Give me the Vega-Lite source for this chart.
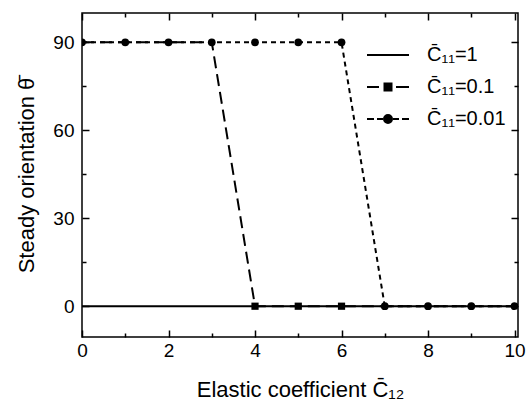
{
  "$schema": "https://vega.github.io/schema/vega-lite/v6.json",
  "width": 436,
  "height": 324,
  "autosize": "none",
  "padding": {"left": 82, "top": 13, "right": 12, "bottom": 68},
  "background": "white",
  "config": {"font": "Liberation Sans", "view": {"stroke": "black", "strokeWidth": 1.5}},
  "data": {"values": [
    {"series": "1", "x": 0, "y": 0}, {"series": "1", "x": 1, "y": 0}, {"series": "1", "x": 2, "y": 0},
    {"series": "1", "x": 3, "y": 0}, {"series": "1", "x": 4, "y": 0}, {"series": "1", "x": 5, "y": 0},
    {"series": "1", "x": 6, "y": 0}, {"series": "1", "x": 7, "y": 0}, {"series": "1", "x": 8, "y": 0},
    {"series": "1", "x": 9, "y": 0}, {"series": "1", "x": 10, "y": 0},
    {"series": "0.1", "x": 0, "y": 90}, {"series": "0.1", "x": 1, "y": 90}, {"series": "0.1", "x": 2, "y": 90},
    {"series": "0.1", "x": 3, "y": 90}, {"series": "0.1", "x": 4, "y": 0}, {"series": "0.1", "x": 5, "y": 0},
    {"series": "0.1", "x": 6, "y": 0}, {"series": "0.1", "x": 7, "y": 0}, {"series": "0.1", "x": 8, "y": 0},
    {"series": "0.1", "x": 9, "y": 0}, {"series": "0.1", "x": 10, "y": 0},
    {"series": "0.01", "x": 0, "y": 90}, {"series": "0.01", "x": 1, "y": 90}, {"series": "0.01", "x": 2, "y": 90},
    {"series": "0.01", "x": 3, "y": 90}, {"series": "0.01", "x": 4, "y": 90}, {"series": "0.01", "x": 5, "y": 90},
    {"series": "0.01", "x": 6, "y": 90}, {"series": "0.01", "x": 7, "y": 0}, {"series": "0.01", "x": 8, "y": 0},
    {"series": "0.01", "x": 9, "y": 0}, {"series": "0.01", "x": 10, "y": 0}
  ]},
  "layer": [
    {
      "mark": {"type": "line", "color": "black", "strokeWidth": 2, "clip": true},
      "encoding": {
        "x": {"field": "x", "type": "quantitative", "scale": {"domain": [0, 10.08], "nice": false, "zero": false},
          "axis": {"orient": "bottom", "values": [0,1,2,3,4,5,6,7,8,9,10],
            "labelExpr": "datum.value % 2 === 0 ? datum.label : ''",
            "tickSize": {"condition": {"test": "datum.value % 2 === 0", "value": -7}, "value": -4},
            "tickColor": "black", "tickWidth": 1.5, "domain": false, "grid": false,
            "labelFontSize": 19, "labelColor": "black", "labelPadding": 11, "labelFlush": false, "labelOverlap": false,
            "title": "Elastic coefficient C̄₁₂", "titleFontSize": 22, "titleFontWeight": "normal", "titleColor": "black", "titlePadding": 16}},
        "y": {"field": "y", "type": "quantitative", "scale": {"domain": [-10.5, 100], "nice": false, "zero": false},
          "axis": {"orient": "left", "values": [0,15,30,45,60,75,90],
            "labelExpr": "datum.value % 30 === 0 ? datum.label : ''",
            "tickSize": {"condition": {"test": "datum.value % 30 === 0", "value": -7}, "value": -4},
            "tickColor": "black", "tickWidth": 1.5, "domain": false, "grid": false,
            "labelFontSize": 19, "labelColor": "black", "labelPadding": 15, "labelFlush": false, "labelOverlap": false,
            "title": "Steady orientation θ̄", "titleFontSize": 22, "titleFontWeight": "normal", "titleColor": "black", "titlePadding": 14}},
        "strokeDash": {"field": "series", "type": "nominal",
          "scale": {"domain": ["0.01", "0.1", "1"], "range": [[5, 4], [12, 6], [1, 0]]}, "legend": null}
      }
    },
    {
      "transform": [{"filter": "datum.series === '0.1' && datum.y === 0 && datum.x < 7"}],
      "mark": {"type": "point", "shape": "square", "filled": true, "color": "black", "size": 52, "opacity": 1, "clip": true},
      "encoding": {
        "x": {"field": "x", "type": "quantitative", "axis": null},
        "y": {"field": "y", "type": "quantitative", "axis": null}
      }
    },
    {
      "transform": [{"filter": "datum.series === '0.01'"}],
      "mark": {"type": "point", "shape": "circle", "filled": true, "color": "black", "size": 60, "opacity": 1, "clip": true},
      "encoding": {
        "x": {"field": "x", "type": "quantitative", "axis": null},
        "y": {"field": "y", "type": "quantitative", "axis": null}
      }
    },
    {
      "transform": [{"filter": "datum.x < 0"}],
      "mark": {"type": "point", "filled": false, "fill": "black", "stroke": "black", "strokeWidth": 2},
      "encoding": {
        "x": {"field": "x", "type": "quantitative",
          "axis": {"orient": "top", "values": [0,1,2,3,4,5,6,7,8,9,10], "labels": false, "title": null,
            "tickSize": {"condition": {"test": "datum.value % 2 === 0", "value": -7}, "value": -4},
            "tickColor": "black", "tickWidth": 1.5, "domain": false, "grid": false}},
        "y": {"field": "y", "type": "quantitative",
          "axis": {"orient": "right", "values": [0,15,30,45,60,75,90], "labels": false, "title": null,
            "tickSize": {"condition": {"test": "datum.value % 30 === 0", "value": -7}, "value": -4},
            "tickColor": "black", "tickWidth": 1.5, "domain": false, "grid": false}},
        "shape": {"field": "series", "type": "nominal",
          "scale": {"domain": ["1", "0.1", "0.01"], "range": [
            "M-2.1,0H2.1",
            "M-2.1,0H-0.9M-0.35,-0.35H0.35V0.35H-0.35ZM0.8,0H2.1",
            "M-2.1,0H-1.4M-1.1,0H-0.5M0.4,0A0.4,0.4,0,1,1,-0.4,0A0.4,0.4,0,1,1,0.4,0ZM0.5,0H1.1M1.4,0H2.1"
          ]},
          "legend": {"orient": "none", "legendX": 295, "legendY": 31, "title": null, "direction": "vertical",
            "labelExpr": "'C̄₁₁=' + datum.label", "labelFontSize": 20, "labelColor": "black",
            "symbolSize": 400, "symbolStrokeWidth": 2, "symbolFillColor": "black", "symbolStrokeColor": "black",
            "symbolOpacity": 1, "labelOffset": 28, "rowPadding": 11, "padding": 0,
            "encoding": {"symbols": {"stroke": {"value": "black"}, "strokeWidth": {"value": 2}, "fill": {"value": "black"}, "opacity": {"value": 1}}}}
        }
      }
    }
  ],
  "resolve": {"axis": {"x": "independent", "y": "independent"}}
}
